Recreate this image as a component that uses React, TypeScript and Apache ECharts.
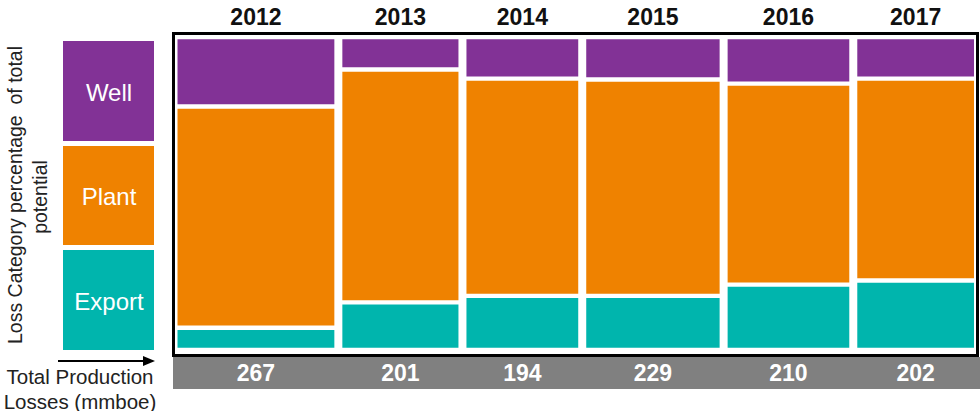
import React, { useEffect, useRef } from "react";
import * as echarts from "echarts";

const years = ["2012", "2013", "2014", "2015", "2016", "2017"];
const totals = [267, 201, 194, 229, 210, 202];
const categories = ["Export", "Plant", "Well"]; // bottom to top
const exportPct = [7.1, 15.2, 17.3, 17.3, 20.9, 22.2];
const plantPct = [70.7, 74.4, 69.4, 69.1, 64.2, 64.5];
const wellPct = [22.2, 10.4, 13.3, 13.6, 14.9, 13.3];
const colors = ["#00B5AD", "#EF8200", "#823296"];
const yTitle = ["Loss Category percentage  of total", "potential"];
const xTitle = ["Total Production", "Losses (mmboe)"];

const FONT = "'Liberation Sans', Arial, sans-serif";

export default function App() {
  const ref = useRef<HTMLDivElement>(null);
  useEffect(() => {
    if (!ref.current) return;
    const chart = echarts.init(ref.current, undefined, { renderer: "svg" });
    const starts: number[] = [];
    let acc = 0;
    totals.forEach((t) => {
      starts.push(acc);
      acc += t;
    });
    const grand = acc;
    const pcts = [exportPct, plantPct, wellPct];

    const segSeries = categories.map((cat, ci) => {
      const data = years.map((_, i) => {
        let y0 = 0;
        for (let k = 0; k < ci; k++) y0 += pcts[k][i];
        return [starts[i], starts[i] + totals[i], y0, y0 + pcts[ci][i]];
      });
      return {
        type: "custom",
        name: cat,
        data,
        encode: { x: [0, 1], y: [2, 3] },
        renderItem: (params: any, api: any) => {
          const a = api.coord([api.value(0), api.value(3)]);
          const b = api.coord([api.value(1), api.value(2)]);
          const gx = 4;
          const gy = 2.2;
          return {
            type: "rect",
            shape: {
              x: a[0] + gx,
              y: a[1] + gy,
              width: b[0] - a[0] - 2 * gx,
              height: b[1] - a[1] - 2 * gy,
            },
            style: { fill: colors[ci] },
          };
        },
      };
    });

    const labelSeries = {
      type: "custom",
      name: "labels",
      data: years.map((_, i) => [starts[i], starts[i] + totals[i], totals[i]]),
      encode: { x: [0, 1] },
      z: 10,
      renderItem: (params: any, api: any) => {
        const top = api.coord([(api.value(0) + api.value(1)) / 2, 100]);
        const bot = api.coord([(api.value(0) + api.value(1)) / 2, 0]);
        return {
          type: "group",
          children: [
            {
              type: "text",
              x: top[0],
              y: top[1] - 20,
              style: {
                text: years[params.dataIndex],
                fill: "#111",
                font: `bold 23px ${FONT}`,
                textAlign: "center",
                textVerticalAlign: "middle",
              },
            },
            {
              type: "text",
              x: bot[0],
              y: bot[1] + 23,
              style: {
                text: String(api.value(2)),
                fill: "#fff",
                font: `bold 23px ${FONT}`,
                textAlign: "center",
                textVerticalAlign: "middle",
              },
            },
          ],
        };
      },
    };

    const legendBoxes = [
      { y: 41, h: 100, ci: 2 },
      { y: 146, h: 99, ci: 1 },
      { y: 250, h: 100, ci: 0 },
    ];

    const graphic: any[] = [
      {
        type: "rect",
        shape: { x: 173, y: 357, width: 807, height: 32 },
        style: { fill: "#808080" },
        z: 1,
      },
      {
        type: "rect",
        shape: { x: 173.5, y: 33.5, width: 804, height: 322 },
        style: { fill: "none", stroke: "#000", lineWidth: 3 },
        z: 2,
      },
      ...legendBoxes.flatMap((b) => [
        {
          type: "rect",
          shape: { x: 63, y: b.y, width: 91, height: b.h },
          style: { fill: colors[b.ci] },
        },
        {
          type: "text",
          x: 109,
          y: b.y + b.h / 2 + 1,
          style: {
            text: categories[b.ci],
            fill: "#fff",
            font: `24px ${FONT}`,
            textAlign: "center",
            textVerticalAlign: "middle",
          },
        },
      ]),
      {
        type: "text",
        x: 15,
        y: 195,
        rotation: Math.PI / 2,
        style: {
          text: yTitle[0],
          fill: "#222",
          font: `19.5px ${FONT}`,
          textAlign: "center",
          textVerticalAlign: "middle",
        },
      },
      {
        type: "text",
        x: 40,
        y: 197,
        rotation: Math.PI / 2,
        style: {
          text: yTitle[1],
          fill: "#222",
          font: `19.5px ${FONT}`,
          textAlign: "center",
          textVerticalAlign: "middle",
        },
      },
      {
        type: "line",
        shape: { x1: 58, y1: 361, x2: 145, y2: 361 },
        style: { stroke: "#000", lineWidth: 2 },
      },
      {
        type: "polygon",
        shape: { points: [[143, 356], [155, 361], [143, 366]] },
        style: { fill: "#000" },
      },
      {
        type: "text",
        x: 80,
        y: 376,
        style: {
          text: xTitle[0],
          fill: "#222",
          font: `20.5px ${FONT}`,
          textAlign: "center",
          textVerticalAlign: "middle",
        },
      },
      {
        type: "text",
        x: 80,
        y: 401,
        style: {
          text: xTitle[1],
          fill: "#222",
          font: `20.5px ${FONT}`,
          textAlign: "center",
          textVerticalAlign: "middle",
        },
      },
    ];

    chart.setOption({
      animation: false,
      grid: { left: 173.5, width: 804.5, top: 37, height: 313 },
      xAxis: { type: "value", min: 0, max: grand, show: false },
      yAxis: { type: "value", min: 0, max: 100, show: false },
      series: [...segSeries, labelSeries],
      graphic,
    });
    return () => chart.dispose();
  }, []);
  return (
    <div
      ref={ref}
      style={{ position: "fixed", left: 0, top: 0, width: 980, height: 411, background: "#fff" }}
    />
  );
}
